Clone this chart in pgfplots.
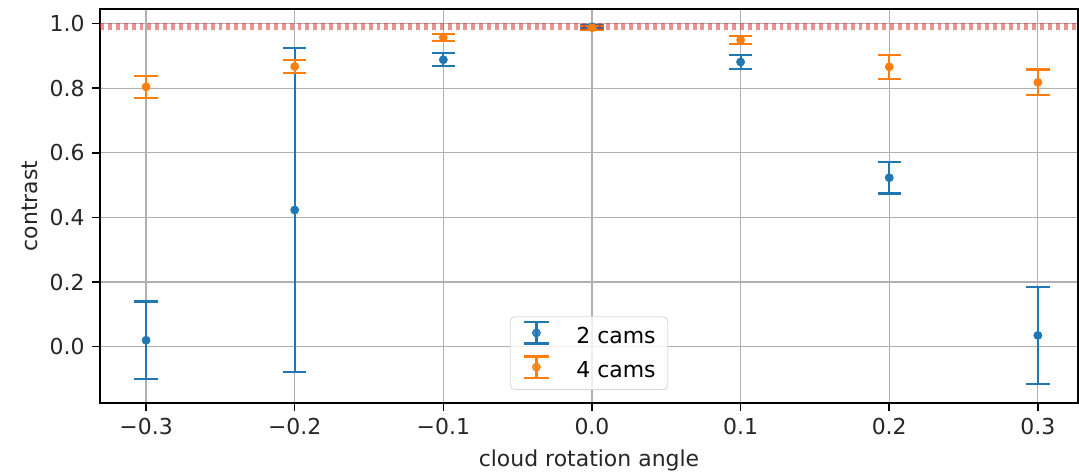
\documentclass[border=0pt]{standalone}
\usepackage{pgfplots}
\pgfplotsset{compat=1.18}
\usepackage{fontspec}
\setmainfont{DejaVu Sans}
\definecolor{tabblue}{HTML}{1F77B4}
\definecolor{taborange}{HTML}{FF7F0E}
\definecolor{tabred}{HTML}{D62728}
\definecolor{gridgray}{HTML}{B0B0B0}
\pgfplotsset{
  ebleg/.style={legend image code/.code={
    \path[draw=none, fill=none] (0.33cm-8.4pt,0cm) -- (0.33cm+16.2pt,0cm);
    \begin{scope}[yshift=1.8pt]
    \draw[line width=1pt, #1] (0.33cm,-0.17cm) -- (0.33cm,0.17cm);
    \draw[line width=1pt, #1] (0.13cm,-0.17cm) -- (0.53cm,-0.17cm);
    \draw[line width=1pt, #1] (0.13cm,0.17cm) -- (0.53cm,0.17cm);
    \fill[#1] (0.33cm,0cm) circle (1.8pt);
    \end{scope}
  }}
}
\begin{document}
\begin{tikzpicture}
\begin{axis}[
  name=ax,
  scale only axis,
  width=445.6pt, height=179.5pt,
  xmin=-0.331, xmax=0.327,
  ymin=-0.174, ymax=1.045,
  xtick={-0.3,-0.2,-0.1,0,0.1,0.2,0.3},
  xticklabels={−0.3,−0.2,−0.1,0.0,0.1,0.2,0.3},
  ytick={0,0.2,0.4,0.6,0.8,1.0},
  yticklabels={0.0,0.2,0.4,0.6,0.8,1.0},
  tick label style={font=\fontsize{10}{12}\selectfont, text=black!85},
  label style={font=\fontsize{10}{12}\selectfont, text=black!85},
  xlabel={cloud rotation angle},
  ylabel={contrast},
  ylabel style={xshift=0pt, yshift=-1.5pt},
  tick align=outside,
  major tick length=3.5pt,
  xtick pos=left, ytick pos=left,
  every tick/.style={black, line width=0.7pt},
  axis line style={line width=0.7pt},
  grid=major,
  major grid style={gridgray, line width=0.55pt},
  legend style={at={(0.5,0.033)}, anchor=south, draw=black!15, rounded corners=2pt,
    fill=white, fill opacity=0.8, text opacity=1,
    font=\fontsize{10}{12}\selectfont, row sep=2pt, inner xsep=3.5pt, inner ysep=2pt,
    nodes={inner sep=2pt}},
  legend cell align=left,
]
\addplot[only marks, tabblue, mark=*, mark size=1.8pt, ebleg=tabblue,
  error bars/.cd, y dir=both, y explicit,
  error bar style={line width=1pt, tabblue},
  error mark options={line width=1pt, mark size=5.3pt, tabblue, rotate=90},
  ] coordinates {
  (-0.3,0.020) +- (0,0.120)
  (-0.2,0.423) +- (0,0.502)
  (-0.1,0.888) +- (0,0.020)
  (0.0,0.990) +- (0,0.004)
  (0.1,0.881) +- (0,0.022)
  (0.2,0.523) +- (0,0.049)
  (0.3,0.035) +- (0,0.150)
};
\addlegendentry{2 cams}
\addplot[only marks, taborange, mark=*, mark size=1.8pt, ebleg=taborange,
  error bars/.cd, y dir=both, y explicit,
  error bar style={line width=1pt, taborange},
  error mark options={line width=1pt, mark size=5.3pt, taborange, rotate=90},
  ] coordinates {
  (-0.3,0.804) +- (0,0.034)
  (-0.2,0.867) +- (0,0.020)
  (-0.1,0.957) +- (0,0.011)
  (0.0,0.987) +- (0,0.006)
  (0.1,0.949) +- (0,0.013)
  (0.2,0.866) +- (0,0.037)
  (0.3,0.818) +- (0,0.040)
};
\addlegendentry{4 cams}
\addplot[tabred, opacity=0.5, line width=3pt, dash pattern=on 1.8pt off 1.8pt, forget plot]
  coordinates {(-0.331,0.99) (0.327,0.99)};
\end{axis}
\pgfresetboundingbox
\path ([xshift=-45.56pt,yshift=-32.8pt]ax.south west) rectangle ([xshift=0.46pt,yshift=4.1pt]ax.north east);
\end{tikzpicture}
\end{document}
